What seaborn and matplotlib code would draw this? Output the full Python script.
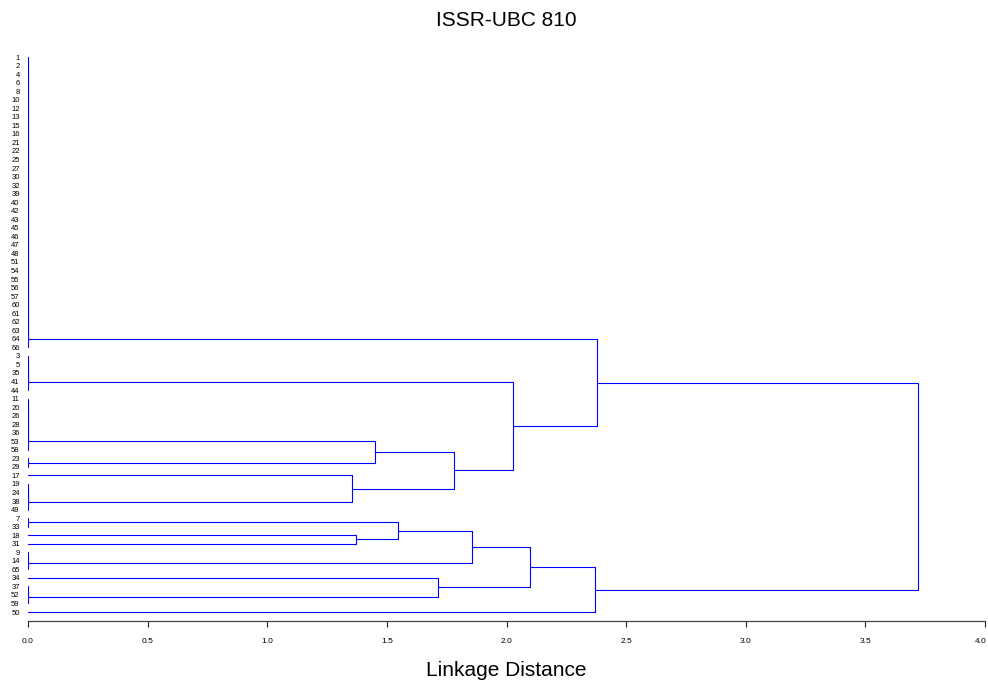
import matplotlib
matplotlib.use("Agg")
import matplotlib.pyplot as plt
import matplotlib.transforms as mtransforms
import seaborn as sns
import pandas as pd

# ---- data: zero-distance leaf groups (in display order, top to bottom) ----
group_a = [1, 2, 4, 6, 8, 10, 12, 13, 15, 16, 21, 22, 25, 27, 30, 32, 39, 40,
           42, 43, 45, 46, 47, 48, 51, 54, 55, 56, 57, 60, 61, 62, 63, 64, 66]
group_b = [3, 5, 35, 41, 44]
group_c1 = [11, 20, 26, 28, 36, 53, 58]
group_c2 = [23, 29]
group_c3 = [17]
group_c4 = [19, 24, 38, 49]
group_d1 = [7, 33]
group_d2 = [18]
group_d3 = [31]
group_d4 = [9, 14, 65]
group_e1 = [34]
group_e2 = [37, 52, 59]
group_f = [50]

group_names = ["a", "b", "c1", "c2", "c3", "c4", "d1", "d2", "d3", "d4", "e1", "e2", "f"]
group_lists = [group_a, group_b, group_c1, group_c2, group_c3, group_c4,
               group_d1, group_d2, group_d3, group_d4, group_e1, group_e2, group_f]

# ---- merges between groups (linkage distance) ----
merge_left = ["c1", "c3", "c12", "b", "a", "d2", "d1", "d123", "e1", "d", "de", "abc"]
merge_right = ["c2", "c4", "c34", "c", "bc", "d3", "d23", "d4", "e2", "e", "f", "def"]
merge_height = [1.450, 1.353, 1.781, 2.028, 2.380, 1.371, 1.545, 1.855, 1.714, 2.098, 2.369, 3.719]
merge_name = ["c12", "c34", "c", "bc", "abc", "d23", "d123", "d", "e", "de", "def", "root"]

xticks = [0.0, 0.5, 1.0, 1.5, 2.0, 2.5, 3.0, 3.5, 4.0]

# ---- build dendrogram link paths ----
leaf_labels = []
rows = []
link_id = 0
nodes = {}  # name -> (position, height)


def add_link(left, right, h):
    global link_id
    (pl, hl), (pr, hr) = left, right
    for xx, yy in [(hl, pl), (h, pl), (h, pr), (hr, pr)]:
        rows.append({"x": xx, "y": yy, "link": link_id})
    link_id += 1
    return ((pl + pr) / 2.0, h)


idx = 0
for name, members in zip(group_names, group_lists):
    node = None
    for lab in members:
        leaf_labels.append(str(lab))
        leaf = (float(idx), 0.0)
        idx += 1
        if node is None:
            node = leaf
        else:
            node = add_link(node, leaf, 0.0)
    nodes[name] = node

for l, r, h, n in zip(merge_left, merge_right, merge_height, merge_name):
    nodes[n] = add_link(nodes[l], nodes[r], h)

df = pd.DataFrame(rows)
n_leaves = len(leaf_labels)

# ---- plot ----
sns.set_style("white")
plt.rcParams["font.family"] = ["Liberation Sans", "DejaVu Sans"]
plt.rcParams["text.color"] = "black"
plt.rcParams["axes.labelcolor"] = "black"
plt.rcParams["xtick.color"] = "black"
plt.rcParams["ytick.color"] = "black"

fig = plt.figure(figsize=(9.88, 6.83), dpi=100)
ax = fig.add_axes([28 / 988, 62 / 683, 957 / 988, (621 - 48.5) / 683])

sns.lineplot(data=df, x="x", y="y", units="link", estimator=None, sort=False,
             color="#0000ff", linewidth=0.8, legend=False, ax=ax)

ax.set_xlim(0, 4.0)
ax.set_ylim(66.05, -1.0)

ax.set_yticks(range(n_leaves))
ax.set_yticklabels(leaf_labels, fontsize=5.5)
ax.tick_params(axis="y", length=0, pad=6.0)

ax.set_xticks(xticks)
ax.set_xticklabels([f"{t:.1f}" for t in xticks], fontsize=6)
ax.tick_params(axis="x", direction="out", length=4, width=0.8, pad=8.5,
               bottom=True, color="#222222")
# keep the last tick label inside the figure
last = ax.get_xticklabels()[-1]
last.set_transform(last.get_transform() +
                   mtransforms.ScaledTranslation(-4 / 100, 0, fig.dpi_scale_trans))

for side in ["left", "right", "top"]:
    ax.spines[side].set_visible(False)
ax.spines["bottom"].set_color("#444444")
ax.spines["bottom"].set_linewidth(0.9)

ax.set_ylabel("")
ax.set_xlabel("Linkage Distance", fontsize=15, color="black")
ax.xaxis.set_label_coords(0.5, (621 - 670) / (621 - 48.5))
ax.xaxis.label.set_va("center")

ax.set_title("ISSR-UBC 810", fontsize=15, pad=16.5, color="black")

fig.savefig("out.png", dpi=100)
